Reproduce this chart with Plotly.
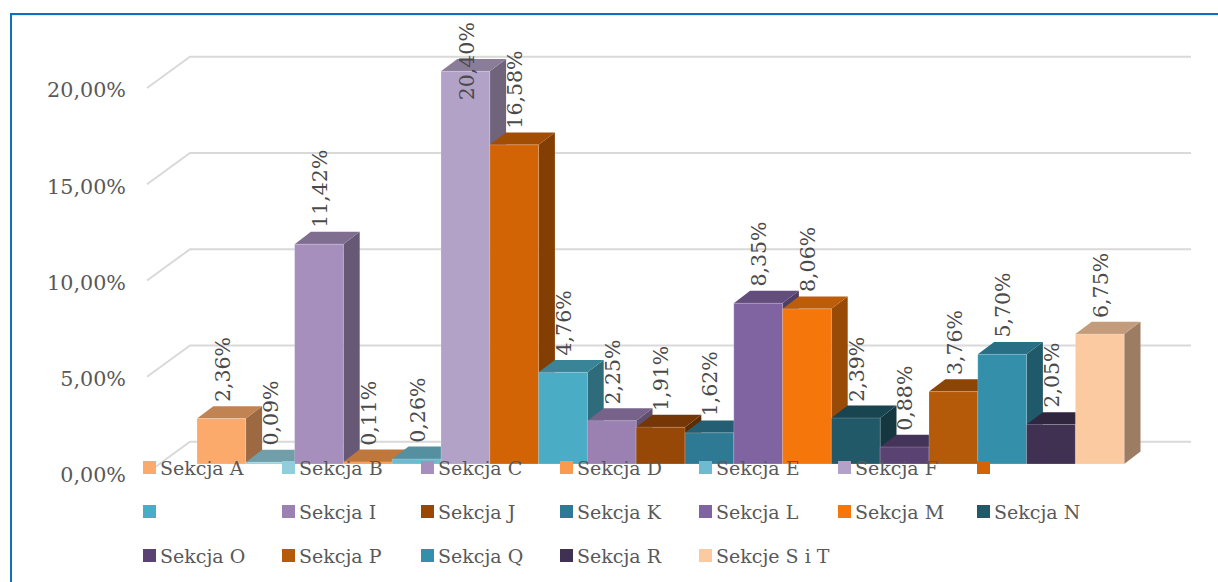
import plotly.graph_objects as go

# ---------- data ----------
sections = ["Sekcja A", "Sekcja B", "Sekcja C", "Sekcja D", "Sekcja E", "Sekcja F", "",
            "", "Sekcja I", "Sekcja J", "Sekcja K", "Sekcja L", "Sekcja M", "Sekcja N",
            "Sekcja O", "Sekcja P", "Sekcja Q", "Sekcja R", "Sekcje S i T"]
values = [2.36, 0.09, 11.42, 0.11, 0.26, 20.40, 16.58,
          4.76, 2.25, 1.91, 1.62, 8.35, 8.06, 2.39,
          0.88, 3.76, 5.70, 2.05, 6.75]
colors = ["#FBAA6B", "#92CDDC", "#A68FBC", "#FA9A4E", "#6EBBD0", "#B3A2C7", "#D26405",
          "#4BACC6", "#9B80B2", "#974706", "#2E7A94", "#8064A2", "#F5770C", "#215968",
          "#5A4373", "#B55A08", "#348FAB", "#403152", "#FCCAA0"]
tick_values = [0, 5, 10, 15, 20]
tick_labels = ["0,00%", "5,00%", "10,00%", "15,00%", "20,00%"]

# ---------- page geometry (pixels) ----------
W, H = 1218, 582
M_LEFT = 127
PX_X = 48.8          # one category
PX_Y = 19.25         # one percentage point
BAR_LEFT = 197       # left edge of first bar
FLOOR_FRONT = 473    # 0 % on the tick-label plane
BAR_FRONT = 464      # 0 % on the bars' front faces
GRID_BACK = 441.7    # 0 % on the back wall
WALL_FRONT_X, WALL_BACK_X, GRID_END_X = 147, 190, 1191
DX = 16.3 / PX_X     # bar depth, axis units
DY = 12.4 / PX_Y
LIFT = (FLOOR_FRONT - BAR_FRONT) / PX_Y
TICK_DROP = 2 / PX_Y
KEY_LEFT, KEY_COL, KEY_ROW0, KEY_ROW, KEY_PER_ROW = 143, 139, 467.5, 44, 7
KEY_SIZE, KEY_TEXT_GAP = 13, 15
SERIF = "DejaVu Serif"


def px_x(p):
    return (p - BAR_LEFT) / PX_X - 0.5


def px_y2(p):
    return (BAR_FRONT - p) / PX_Y


def shade(hex_color, f):
    r, g, b = (int(hex_color[i:i + 2], 16) for i in (1, 3, 5))
    return f"rgb({r * f:.0f},{g * f:.0f},{b * f:.0f})"


x_range = [px_x(M_LEFT), px_x(W)]
y_range = [(FLOOR_FRONT - H) / PX_Y, FLOOR_FRONT / PX_Y]
y2_range = [(BAR_FRONT - H) / PX_Y, BAR_FRONT / PX_Y]

fig = go.Figure()

# gridlines on the back wall with the diagonal down the side wall
back_lift = (FLOOR_FRONT - GRID_BACK) / PX_Y
for t in tick_values:
    fig.add_trace(go.Scatter(
        x=[px_x(WALL_FRONT_X), px_x(WALL_BACK_X), px_x(GRID_END_X)],
        y=[t, t + back_lift, t + back_lift],
        mode="lines", line=dict(color="#D9D9D9", width=2),
        showlegend=False, hoverinfo="skip"))

# side and top faces, below the front faces
for i, (v, c) in enumerate(zip(values, colors)):
    base, top = LIFT, LIFT + v
    fig.add_trace(go.Scatter(
        x=[i + .5, i + .5 + DX, i + .5 + DX, i + .5, i + .5],
        y=[base, base + DY, top + DY, top, base],
        mode="lines", fill="toself", fillcolor=shade(c, .62),
        line=dict(width=0), showlegend=False, hoverinfo="skip"))
    fig.add_trace(go.Scatter(
        x=[i - .5, i + .5, i + .5 + DX, i - .5 + DX, i - .5],
        y=[top, top, top + DY, top + DY, top],
        mode="lines", fill="toself", fillcolor=shade(c, .77),
        line=dict(width=0), showlegend=False, hoverinfo="skip"))

# front faces
for i, (name, v, c) in enumerate(zip(sections, values, colors)):
    fig.add_trace(go.Bar(
        x=[i], y=[v], width=1, name=name or " ",
        marker=dict(color=c, line=dict(width=1, color="rgba(255,255,255,0.2)")),
        xaxis="x2", yaxis="y2", showlegend=False))

# key: three rows of seven, crossing the foot of the bars as in the reference
key_x, key_y, key_text_x, key_text_y, key_text = [], [], [], [], []
for i, name in enumerate(sections):
    col, row = i % KEY_PER_ROW, i // KEY_PER_ROW
    left = KEY_LEFT + KEY_COL * col
    centre = KEY_ROW0 + KEY_ROW * row
    key_x.append(px_x(left + KEY_SIZE / 2))
    key_y.append(px_y2(centre))
    key_text_x.append(px_x(left + KEY_TEXT_GAP))
    key_text_y.append(px_y2(centre))
    key_text.append(name)
fig.add_trace(go.Scatter(
    x=key_x, y=key_y, mode="markers", xaxis="x2", yaxis="y2",
    marker=dict(symbol="square", size=KEY_SIZE, color=colors, line=dict(width=0)),
    showlegend=False, hoverinfo="skip"))

annotations = [dict(
    x=x, y=y, xref="x2", yref="y2", text=t, showarrow=False,
    xanchor="left", yanchor="middle",
    font=dict(family=SERIF, size=19, color="#595959"))
    for x, y, t in zip(key_text_x, key_text_y, key_text) if t]

# rotated value labels above each bar's back edge
label_drop = {"Sekcja F": 45}
for name, i, v in zip(sections, range(len(values)), values):
    annotations.append(dict(
        x=i, y=v + DY, xref="x2", yref="y2",
        text=f"{v:.2f}%".replace(".", ","), textangle=-90, showarrow=False,
        xanchor="center", yanchor="bottom", xshift=1, yshift=2 - label_drop.get(name, 0),
        font=dict(family=SERIF, size=20.5, color="#4A4A4A")))

# outer frame
fx = (11 - M_LEFT) / (W - M_LEFT)
frame = [
    dict(type="line", xref="paper", yref="paper", x0=(12 - M_LEFT) / (W - M_LEFT), x1=1,
         y0=1 - 15 / H, y1=1 - 15 / H, line=dict(color="#BBDDF3", width=1)),
    dict(type="path", xref="paper", yref="paper",
         path=f"M {fx} 0 L {fx} {1 - 14 / H} L 1 {1 - 14 / H}",
         line=dict(color="#0F6FC1", width=2)),
]

fig.update_layout(
    width=W, height=H, autosize=False,
    margin=dict(l=M_LEFT, r=0, t=0, b=0, pad=0, autoexpand=False),
    paper_bgcolor="white", plot_bgcolor="rgba(0,0,0,0)", barmode="overlay",
    showlegend=False,
    xaxis=dict(range=x_range, visible=False, fixedrange=True),
    xaxis2=dict(range=x_range, visible=False, overlaying="x", anchor="y2", fixedrange=True),
    yaxis=dict(range=y_range, tickvals=[t - TICK_DROP for t in tick_values], ticktext=tick_labels,
               showgrid=False, zeroline=False, showline=False, ticks="", fixedrange=True,
               tickfont=dict(family=SERIF, size=20.7, color="#595959")),
    yaxis2=dict(range=y2_range, visible=False, overlaying="y", anchor="x2", fixedrange=True),
    annotations=annotations, shapes=frame,
    hovermode=False,
)

fig.write_html("out.html", config={"displayModeBar": False},
               post_script="document.body.style.margin='0';document.body.style.overflow='hidden';")
